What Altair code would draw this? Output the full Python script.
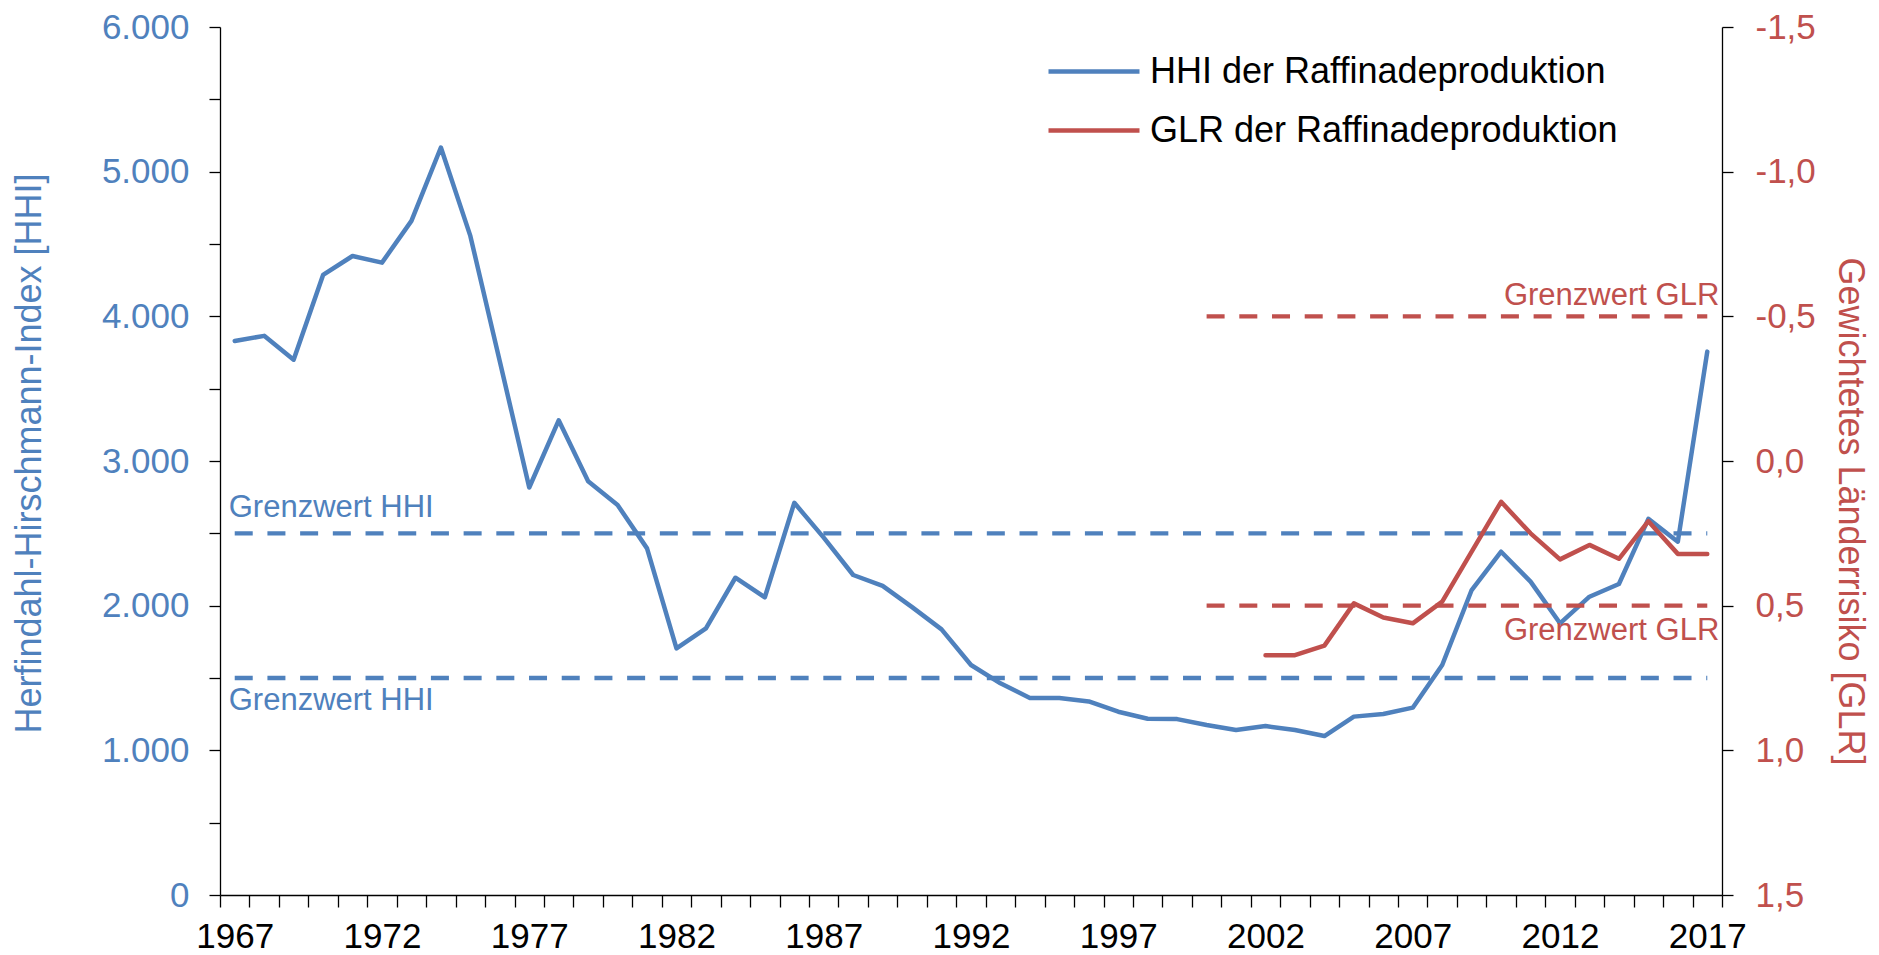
import altair as alt
import pandas as pd

FONT = "Liberation Sans"
BLUE = "#4F81BD"
RED = "#C0504D"

# ---- data ----
years = list(range(1967, 2018))
hhi = [3830, 3865, 3700, 4286, 4417, 4371, 4660, 5167, 4556, 3690,
       2817, 3281, 2860, 2696, 2396, 1705, 1843, 2193, 2058, 2711,
       2470, 2212, 2137, 1990, 1836, 1590, 1463, 1362, 1362, 1338,
       1267, 1218, 1216, 1175, 1140, 1168, 1140, 1099, 1233, 1251,
       1295, 1590, 2108, 2373, 2166, 1878, 2062, 2150, 2600, 2442, 3756]

glr_years = list(range(2002, 2018))
glr = [0.671, 0.671, 0.638, 0.492, 0.541, 0.561, 0.486, 0.313,
       0.141, 0.250, 0.340, 0.290, 0.338, 0.208, 0.321, 0.321]

series_names = ["HHI der Raffinadeproduktion", "GLR der Raffinadeproduktion"]

hhi_limits = [2500, 1500]
hhi_limit_span = [1967, 2017]
glr_limits = [-0.5, 0.5]
glr_limit_span = [2000, 2017]
limit_labels = ["Grenzwert HHI", "Grenzwert GLR"]

hhi_ticks = list(range(0, 6001, 500))
glr_ticks = [-1.5, -1.0, -0.5, 0.0, 0.5, 1.0, 1.5]
x_tick_edges = [y - 0.5 for y in years] + [years[-1] + 0.5]

# ---- tables ----
df_hhi = pd.DataFrame({"year": years, "hhi": hhi, "series": series_names[0]})
df_glr = pd.DataFrame({"year": glr_years, "glr": glr, "series": series_names[1]})
df_hhi_lim = pd.DataFrame({"start": [hhi_limit_span[0]] * 2,
                           "end": [hhi_limit_span[1]] * 2,
                           "limit": hhi_limits})
df_glr_lim = pd.DataFrame({"start": [glr_limit_span[0]] * 2,
                           "end": [glr_limit_span[1]] * 2,
                           "limit": glr_limits})
df_hhi_txt_hi = pd.DataFrame({"xpos": [hhi_limit_span[0]], "ypos": [hhi_limits[0]], "label": [limit_labels[0]]})
df_hhi_txt_lo = pd.DataFrame({"xpos": [hhi_limit_span[0]], "ypos": [hhi_limits[1]], "label": [limit_labels[0]]})
df_glr_txt_hi = pd.DataFrame({"xpos": [glr_limit_span[1]], "ypos": [glr_limits[0]], "label": [limit_labels[1]]})
df_glr_txt_lo = pd.DataFrame({"xpos": [glr_limit_span[1]], "ypos": [glr_limits[1]], "label": [limit_labels[1]]})

# ---- axes & scales ----
x_scale = alt.Scale(domain=[years[0] - 0.5, years[-1] + 0.5], nice=False, zero=False)
x_axis = alt.Axis(
    title=None, values=x_tick_edges,
    labelExpr="(datum.value + 0.5) % 5 == 2 ? toString(datum.value + 0.5) : ''",
    labelOffset=14.7, labelFlush=False, labelOverlap=False, labelAngle=0,
    tickSize=12, tickWidth=1.3, tickColor="black",
    domainColor="black", domainWidth=1.3, grid=False,
    labelPadding=12, labelFontSize=35, labelFont=FONT, labelColor="black",
)

left_scale = alt.Scale(domain=[0, 6000], nice=False, zero=True)
left_axis = alt.Axis(
    title="Herfindahl-Hirschmann-Index [HHI]", orient="left", values=hhi_ticks,
    labelExpr="datum.value % 1000 == 0 ? replace(format(datum.value, ','), ',', '.') : ''",
    tickSize=11, tickWidth=1.3, tickColor="black",
    domainColor="black", domainWidth=1.3, grid=False, labelOverlap=False,
    labelPadding=20, labelFontSize=35, labelFont=FONT, labelColor=BLUE,
    titleFontSize=36, titleFont=FONT, titleColor=BLUE, titleFontWeight="normal",
    titlePadding=53, titleY=426,
)

right_scale = alt.Scale(domain=[-1.5, 1.5], reverse=True, nice=False, zero=False)
right_axis = alt.Axis(
    title="Gewichtetes Länderrisiko [GLR]", orient="right", values=glr_ticks,
    labelExpr="replace(replace(format(datum.value, '.1f'), '.', ','), '\u2212', '-')",
    tickSize=11, tickWidth=1.3, tickColor="black",
    domainColor="black", domainWidth=1.3, grid=False, labelOverlap=False,
    labelPadding=22, labelFontSize=35, labelFont=FONT, labelColor=RED,
    titleFontSize=36, titleFont=FONT, titleColor=RED, titleFontWeight="normal",
    titlePadding=15, titleY=484,
)


def make_legend(ypos):
    return alt.Legend(
        title=None, orient="none", legendX=826, legendY=ypos, padding=0,
        symbolType="stroke", symbolSize=8281, symbolStrokeWidth=4.5,
        labelFontSize=36, labelFont=FONT, labelColor="black", labelLimit=900,
        labelOffset=8,
    )


color_hhi = alt.Color("series:N", scale=alt.Scale(domain=[series_names[0]], range=[BLUE]),
                      legend=make_legend(-3.5))
color_glr = alt.Color("series:N", scale=alt.Scale(domain=[series_names[1]], range=[RED]),
                      legend=make_legend(55.5))


def X(field):
    return alt.X(f"{field}:Q", scale=x_scale, axis=x_axis)


def YL(field):
    return alt.Y(f"{field}:Q", scale=left_scale, axis=left_axis)


def YR(field):
    return alt.Y(f"{field}:Q", scale=right_scale, axis=right_axis)


dash = [18, 14.7]
LW = 4.5
DW = 4.3

# ---- left (HHI) group ----
hhi_lim = alt.Chart(df_hhi_lim).mark_rule(
    color=BLUE, strokeWidth=DW, strokeDash=dash, strokeCap="butt"
).encode(x=X("start"), x2="end:Q", y=YL("limit"))

hhi_line = alt.Chart(df_hhi).mark_line(
    strokeWidth=LW, strokeJoin="round", strokeCap="round"
).encode(x=X("year"), y=YL("hhi"), color=color_hhi)

hhi_txt_hi = alt.Chart(df_hhi_txt_hi).mark_text(
    align="left", baseline="alphabetic", dx=-6, dy=-16, fontSize=31, font=FONT, color=BLUE
).encode(x=X("xpos"), y=YL("ypos"), text="label:N")

hhi_txt_lo = alt.Chart(df_hhi_txt_lo).mark_text(
    align="left", baseline="alphabetic", dx=-6, dy=32, fontSize=31, font=FONT, color=BLUE
).encode(x=X("xpos"), y=YL("ypos"), text="label:N")

left = alt.layer(hhi_lim, hhi_line, hhi_txt_hi, hhi_txt_lo)

# ---- right (GLR) group ----
glr_lim = alt.Chart(df_glr_lim).mark_rule(
    color=RED, strokeWidth=DW, strokeDash=dash, strokeCap="butt"
).encode(x=X("start"), x2="end:Q", y=YR("limit"))

glr_line = alt.Chart(df_glr).mark_line(
    strokeWidth=LW, strokeJoin="round", strokeCap="round"
).encode(x=X("year"), y=YR("glr"), color=color_glr)

glr_txt_hi = alt.Chart(df_glr_txt_hi).mark_text(
    align="right", baseline="alphabetic", dx=12, dy=-11, fontSize=31, font=FONT, color=RED
).encode(x=X("xpos"), y=YR("ypos"), text="label:N")

glr_txt_lo = alt.Chart(df_glr_txt_lo).mark_text(
    align="right", baseline="alphabetic", dx=12, dy=34, fontSize=31, font=FONT, color=RED
).encode(x=X("xpos"), y=YR("ypos"), text="label:N")

right = alt.layer(glr_lim, glr_line, glr_txt_hi, glr_txt_lo)

chart = alt.layer(left, right).resolve_scale(y="independent", color="independent").properties(
    width=1502, height=868,
    autosize=alt.AutoSizeParams(type="none"),
    padding={"left": 212, "top": 19, "right": 149, "bottom": 60},
).configure_view(stroke=None)

chart.save("out.html", embed_options={"renderer": "svg", "actions": False})
